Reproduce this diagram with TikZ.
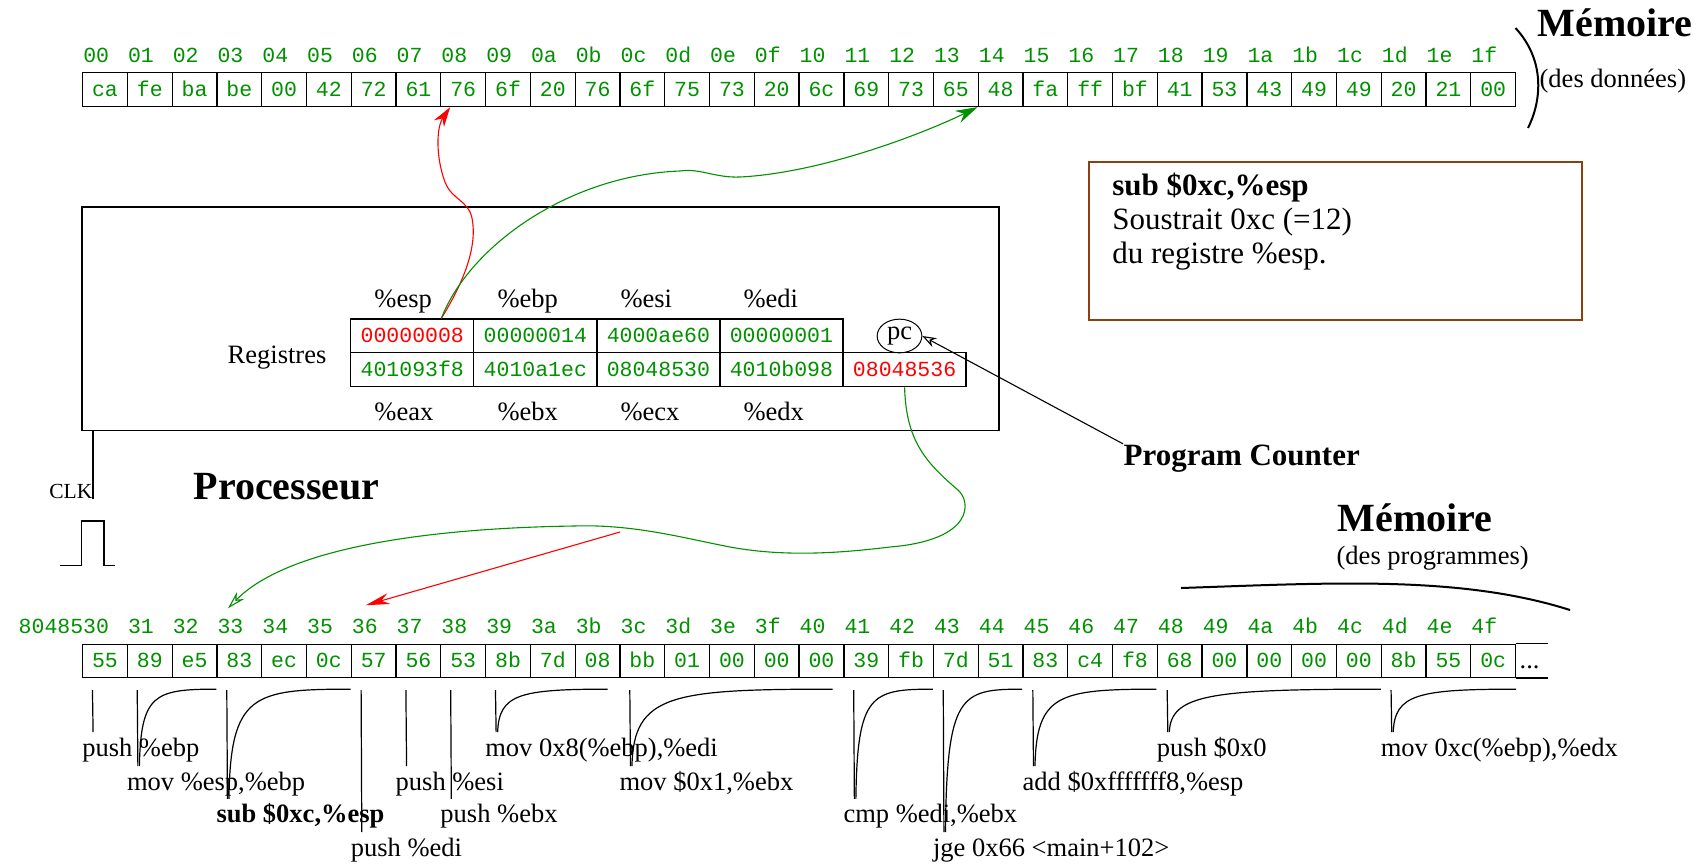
\documentclass[tikz,border=0pt]{standalone}
\usepackage{fontspec}
\setmainfont{Liberation Serif}
\setmonofont{Liberation Mono}
\usetikzlibrary{arrows.meta,shapes.geometric}
\definecolor{fgreen}{RGB}{0,144,0}
\definecolor{fred}{RGB}{255,0,0}
\definecolor{fbrown}{RGB}{140,64,16}
\newcommand{\monof}{\fontsize{10.75pt}{12pt}\ttfamily}
\newcommand{\smallf}{\fontsize{13.25pt}{15pt}\rmfamily}
\newcommand{\boxf}{\fontsize{15.5pt}{17pt}\rmfamily}
\newcommand{\titlef}{\fontsize{20pt}{24pt}\rmfamily\bfseries}
\newcommand{\clkf}{\fontsize{10.75pt}{12pt}\rmfamily}
\begin{document}
\begin{tikzpicture}[x=0.5pt,y=-0.5pt,line width=0.65pt,
  cell/.style={draw,inner sep=0pt,minimum width=22.39pt,minimum height=16.85pt,
     text height=7pt,text depth=0pt,font=\monof,text=fgreen},
  idx/.style={inner sep=0pt,anchor=base west,font=\monof,text=fgreen,text height=7pt,text depth=0pt},
  reg/.style={draw,inner sep=0pt,minimum width=61.52pt,minimum height=16.9pt,
     text height=7pt,text depth=0pt,font=\monof,text=fgreen},
  rname/.style={inner sep=0pt,anchor=base west,font=\smallf},
  instr/.style={inner sep=0pt,anchor=base west,font=\smallf,text height=9.5pt,text depth=3pt},
  plain/.style={inner sep=0pt,anchor=base west},
  ann/.style={line width=0.6pt},
  ptr/.style={line width=0.55pt}
]
\useasboundingbox (0,0) rectangle (1704,864);

% ---------- data memory ----------
\foreach \v/\a [count=\i from 0] in {ca/00,fe/01,ba/02,be/03,00/04,42/05,72/06,61/07,76/08,6f/09,20/0a,76/0b,6f/0c,75/0d,73/0e,20/0f,6c/10,69/11,73/12,65/13,48/14,fa/15,ff/16,bf/17,41/18,53/19,43/1a,49/1b,49/1c,20/1d,21/1e,00/1f}{
  \node[cell] (m\i) at ({82.6+(\i+0.5)*44.78},89.65) {\v};
  \node[idx] (ma\i) at ({82.6+\i*44.78},62.5) {\a};
}
\node[plain,font=\titlef] (memd) at (1537,36) {Mémoire};
\node[plain,font=\smallf] (memdd) at (1539,87) {(des données)};
\draw[line width=1pt] (1515.5,28) .. controls (1545,60) and (1542,100) .. (1528,128);

% ---------- program memory ----------
\foreach \v/\a [count=\i from 0] in {55/{\llap{80485}30},89/31,e5/32,83/33,ec/34,0c/35,57/36,56/37,53/38,8b/39,7d/3a,08/3b,bb/3c,01/3d,00/3e,00/3f,00/40,39/41,fb/42,7d/43,51/44,83/45,c4/46,f8/47,68/48,00/49,00/4a,00/4b,00/4c,8b/4d,55/4e,0c/4f}{
  \node[cell,minimum height=16.5pt] (b\i) at ({82.6+(\i+0.5)*44.78},660.7) {\v};
  \node[idx] (ba\i) at ({82.6+\i*44.78},633.5) {\a};
}
\draw (b31.north east) -- ++(32,0);
\draw (b31.south east) -- ++(32,0);
\node[plain,font=\smallf] (dots) at (1519,668) {...};
\node[plain,font=\titlef] (memp) at (1337,531.5) {Mémoire};
\node[plain,font=\smallf] (mempp) at (1336,564) {(des programmes)};
\draw[line width=1pt] (1181,588) .. controls (1330,583) and (1460,575) .. (1570,610);

% ---------- processor ----------
\node[draw,inner sep=0pt,minimum width=458.5pt,minimum height=111.75pt] (proc) at (540.5,318.75) {};
\foreach \n/\v/\c [count=\k from 0] in {esp/00000008/fred,ebp/00000014/fgreen,esi/4000ae60/fgreen,edi/00000001/fgreen}{
  \node[reg,text=\c] (r\n) at ({412.3+\k*123.05},335.9) {\v};
  \node[rname] (l\n) at ({373.8+\k*123.05},307.5) {\%\n};
}
\foreach \n/\v/\c [count=\k from 0] in {eax/401093f8/fgreen,ebx/4010a1ec/fgreen,ecx/08048530/fgreen,edx/4010b098/fgreen}{
  \node[reg,text=\c] (r\n) at ({412.3+\k*123.05},369.7) {\v};
  \node[rname] (l\n) at ({373.8+\k*123.05},420.5) {\%\n};
}
\node[reg,text=fred] (rpc) at (904.6,369.7) {08048536};
\node[draw,ellipse,inner sep=0pt,minimum width=22.35pt,minimum height=16.85pt,font=\smallf,line width=0.5pt] (pc) at (899.5,336) {pc};
\node[inner sep=0pt,anchor=base east,font=\smallf] (regs) at (327,363) {Registres};

\draw ([xshift=5.75pt]proc.south west) -- ++(0,67.5);
\node[inner sep=0pt,anchor=base east,font=\clkf] (clk) at (93,498) {CLK};
\draw[line width=0.75pt] (59.5,565.5) -- (81.5,565.5) -- (81.5,521) -- (104,521) -- (104,565.5) -- (114.5,565.5);
\node[plain,font=\titlef] (procl) at (193,499) {Processeur};

% ---------- explanation box ----------
\node[draw=fbrown,line width=0.9pt,inner sep=0pt,minimum width=246.5pt,minimum height=79pt] (subbox) at (1335.5,241) {};
\node[plain,font=\boxf\bfseries] (sb1) at (1111.7,195) {sub \$0xc,\%esp};
\node[plain,font=\boxf] (sb2) at (1111.7,229.5) {Soustrait 0xc (=12)};
\node[plain,font=\boxf] (sb3) at (1111.7,263.5) {du registre \%esp.};

\node[plain,font=\boxf\bfseries] (pcl) at (1123,465) {Program Counter};
\draw[ptr,-{Stealth[open,length=7pt,width=5pt]}] (pcl.north west) -- (pc.east);

% ---------- arrows ----------
\draw[fred,ptr,-{Stealth[length=10pt,width=6pt]}] ([xshift=14.5pt]resp.north)
  .. controls (462,285) and (478,248) .. (472,218)
  .. controls (468,200) and (452,200) .. (445,182)
  .. controls (436,158) and (436,128) .. ([xshift=5pt]m8.south west);
\draw[fgreen,ptr,-{Stealth[length=11pt,width=6.5pt]}] ([xshift=14.5pt]resp.north)
  .. controls (470,245) and (570,175) .. (680,171)
  .. controls (700,168) and (715,178) .. (740,177)
  .. controls (820,173) and (920,135) .. (m20.south west);
\draw[fgreen,ptr,-{Stealth[open,length=9pt,width=5pt]}] (rpc.south)
  .. controls (906,440) and (925,462) .. (958,490)
  .. controls (971,501) and (975,540) .. (890,547)
  .. controls (840,553) and (780,558) .. (720,545)
  .. controls (680,537) and (630,524) .. (574,526)
  .. controls (440,528) and (290,545) .. ([xshift=5.5pt,yshift=5.25pt]ba3.north west);
\coordinate (redsrc) at (620,532);
\draw[fred,ptr,-{Stealth[length=12pt,width=5.5pt]}] (redsrc) -- ([xshift=7.2pt,yshift=6.8pt]ba6.north west);

% ---------- instruction annotations ----------
\foreach \s/\e/\off/\base/\txt [count=\n] in {
  0/-1/0/756/{push \%ebp},
  1/2/1.3/790/{mov \%esp,\%ebp},
  3/5/1.4/822.7/{\textbf{sub \$0xc,\%esp}},
  6/-1/0/856/{push \%edi},
  7/-1/0/790/{push \%esi},
  8/-1/0/822.7/{push \%ebx},
  9/11/13/756/{mov 0x8(\%ebp),\%edi},
  12/16/12/790/{mov \$0x1,\%ebx},
  17/18/1.2/822.7/{cmp \%edi,\%ebx},
  19/20/1.4/856/{jge 0x66 <main+102>},
  21/23/1.5/790/{add \$0xfffffff8,\%esp},
  24/28/1/756/{push \$0x0},
  29/31/0/756/{mov 0xc(\%ebp),\%edx}}{
  \node[instr] (in\n) at ({82.6+\s*44.78-1},\base) {\txt};
  \draw[ann] ([xshift=5.25pt,yshift=-6.15pt]b\s.south west) -- ([xshift=5.75pt,yshift=2.15pt]in\n.north west);
  \ifnum\e>-1
    \pgfmathsetmacro\dy{695-(\base-23.3)}
    \pgfmathsetmacro\dx{0.8*((\e+1)*44.78-\off-\s*44.78-10.5)}
    \pgfmathsetmacro\xo{-0.5*\off}
    \draw[ann] ([xshift=6.5pt,yshift=2.15pt]in\n.north west) .. controls +(1.5,\dy) and +(-\dx,0) .. ([xshift=\xo pt,yshift=-5.65pt]b\e.south east);
  \fi
}
\end{tikzpicture}
\end{document}
